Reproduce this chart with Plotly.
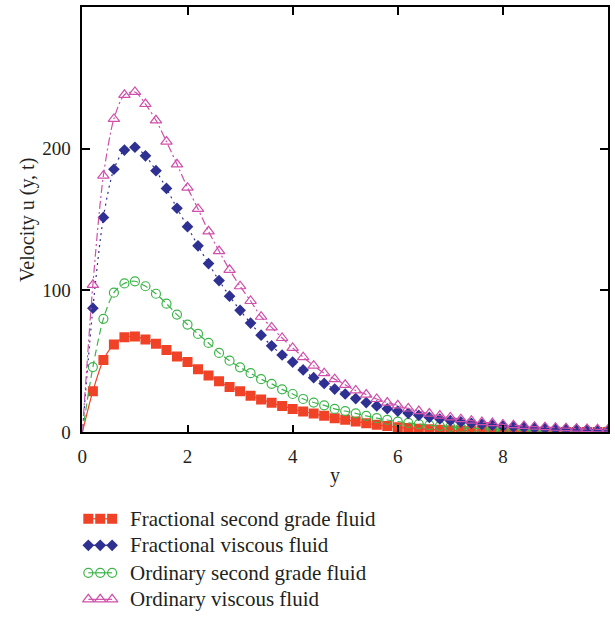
import plotly.graph_objects as go

# Velocity profiles u(y, t) sampled every 0.2 in y
y_pos = [round(0.2 * i, 1) for i in range(51)]

frac_second_grade = [0, 29, 51, 62, 67, 67.5, 65.5, 62.5, 58, 53.5, 49.5, 44.5, 40, 36, 32, 29,
                     25.8, 23.2, 20.8, 18.6, 16.5, 14.6, 13.2, 11.6, 10, 8.8, 7.6, 6.4, 5.3, 4.4,
                     3.6, 3.0, 2.5, 2.1, 1.8, 1.5, 1.3, 1.1, 0.95, 0.8, 0.7, 0.6, 0.5, 0.45, 0.4,
                     0.35, 0.3, 0.27, 0.24, 0.2, 0.18]
frac_viscous = [0, 87.5, 151.5, 185.5, 199, 201, 195, 184.5, 172, 158, 145, 131.5, 119, 107, 96,
                86, 77, 68.5, 61, 54.5, 49.5, 44, 38.5, 34.5, 30.5, 27, 23.8, 21, 18.6, 16.6, 15,
                13.4, 12, 10.6, 9.4, 8.3, 7.3, 6.4, 5.6, 5, 4.4, 3.9, 3.5, 3.1, 2.8, 2.5, 2.2,
                2.0, 1.8, 1.6, 1.4]
ord_second_grade = [0, 46, 80, 98.5, 105, 106.5, 103, 97.7, 90.7, 83, 76, 69.4, 63, 56, 50.5,
                    45.8, 41.7, 37.5, 34.2, 30.3, 27, 23.5, 21, 19, 16.5, 15, 13.4, 11.6, 10, 8.7,
                    7.6, 6.6, 5.8, 5.0, 4.4, 3.8, 3.3, 2.9, 2.5, 2.2, 1.9, 1.7, 1.5, 1.3, 1.15,
                    1.0, 0.9, 0.8, 0.7, 0.6, 0.55]
ord_viscous = [0, 104, 181, 221, 238, 240, 231.5, 220, 205, 189, 172.5, 157.5, 141.7, 127.8, 114.6,
               103, 92.6, 81.5, 74, 66.5, 59.5, 53, 47, 41.7, 37.5, 33.5, 29.5, 26.6, 23.5, 21,
               19, 16.8, 15, 13.2, 11.8, 10.5, 9.3, 8.2, 7.2, 6.5, 5.6, 5.0, 4.5, 4.0, 3.6, 3.2,
               2.9, 2.6, 2.3, 2.1, 1.9]

series_names = ["Fractional second grade fluid", "Fractional viscous fluid",
                "Ordinary second grade fluid", "Ordinary viscous fluid"]
series_values = [frac_second_grade, frac_viscous, ord_second_grade, ord_viscous]

x_ticks = [0, 2, 4, 6, 8, 10]
y_ticks = [0, 100, 200]

W, H = 615, 629
PLOT_L, PLOT_R, PLOT_T, PLOT_B = 78, 608, 7, 440
SERIF = "Liberation Serif"
TEXT = "#231F20"

styles = [
    dict(color="#EF4227", dash="solid", symbol="square", size=10, mline=0),
    dict(color="#2E3192", dash="2px,4px", symbol="diamond", size=9, mline=0),
    dict(color="#3DB54A", dash="7px,4px", symbol="circle-open", size=9, mline=1.2),
    dict(color="#CF4FAA", dash="8px,3px,2px,3px", symbol="triangle-up-open", size=10, mline=1.2),
]
draw_order = [0, 2, 1, 3]

fig = go.Figure()

for k in draw_order:
    st = styles[k]
    vals = series_values[k]
    fig.add_trace(go.Scatter(
        x=y_pos, y=vals, mode="lines", line=dict(color=st["color"], width=1.2,
                                                 dash=st["dash"], shape="spline", smoothing=0.8),
        showlegend=False, hoverinfo="skip"))
    fig.add_trace(go.Scatter(
        x=y_pos[1:], y=vals[1:], mode="markers", name=series_names[k],
        marker=dict(symbol=st["symbol"], size=st["size"], color=st["color"],
                    line=dict(color=st["color"], width=st["mline"])),
        showlegend=False))

# Legend block below the chart, drawn on a helper axis scaled in canvas pixels
legend_rows = [528, 555, 583, 610]
legend_key_x = [84, 96, 108]
legend_text_x = 124
for k in range(4):
    st = styles[k]
    fig.add_trace(go.Scatter(
        x=legend_key_x, y=[legend_rows[k]] * 3, xaxis="x2", yaxis="y2",
        mode="lines+markers",
        line=dict(color=st["color"], width=1.2),
        marker=dict(symbol=st["symbol"], size=st["size"], color=st["color"],
                    line=dict(color=st["color"], width=st["mline"])),
        showlegend=False, hoverinfo="skip", cliponaxis=False))
    fig.add_annotation(x=legend_text_x, y=legend_rows[k], xref="x2", yref="y2",
                       text=series_names[k], showarrow=False, xanchor="left",
                       yanchor="middle", font=dict(family=SERIF, size=21, color=TEXT))

axis_common = dict(showline=True, linecolor="black", linewidth=1.5, mirror="ticks",
                   ticks="inside", ticklen=8, tickwidth=1.5, tickcolor="black",
                   showgrid=False, zeroline=False, ticklabeloverflow="hide past div",
                   tickfont=dict(family=SERIF, size=19, color=TEXT))

fig.update_layout(
    width=W, height=H, autosize=False,
    margin=dict(l=0, r=0, t=0, b=0),
    paper_bgcolor="white", plot_bgcolor="rgba(0,0,0,0)",
    xaxis=dict(domain=[PLOT_L / W, PLOT_R / W], range=[0, 10], tickvals=x_ticks,
               ticklabelstandoff=6, anchor="y", **axis_common),
    yaxis=dict(domain=[1 - PLOT_B / H, 1 - PLOT_T / H], range=[0, 300], tickvals=y_ticks,
               ticklabelstandoff=6, anchor="x", **axis_common),
    xaxis2=dict(domain=[0, 1], range=[0, W], visible=False, anchor="y2", fixedrange=True),
    yaxis2=dict(domain=[0, 126 / H], range=[H, H - 126], visible=False, anchor="x2",
                fixedrange=True),
    showlegend=False,
)

# Axis titles
fig.add_annotation(x=22 / W, y=1 - 224 / H, xref="paper", yref="paper",
                   xanchor="center", yanchor="middle",
                   text="Velocity u (y, t)", textangle=-90, showarrow=False,
                   font=dict(family=SERIF, size=20, color=TEXT))
fig.add_annotation(x=333 / W, y=1 - 484 / H, xref="paper", yref="paper",
                   xanchor="center", yanchor="middle",
                   text="y", showarrow=False,
                   font=dict(family=SERIF, size=20, color=TEXT))

fig.write_html("out.html")
